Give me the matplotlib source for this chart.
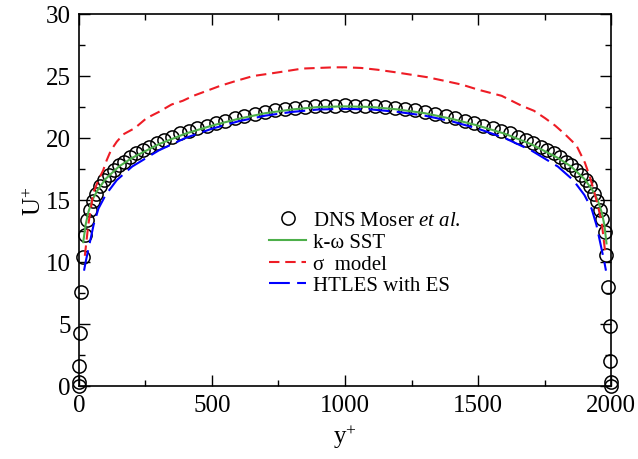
import matplotlib
matplotlib.use("Agg")
import matplotlib.pyplot as plt
from matplotlib.ticker import MultipleLocator

plt.rcParams["font.family"] = ["Liberation Serif", "DejaVu Serif"]
plt.rcParams["mathtext.fontset"] = "custom"
plt.rcParams["mathtext.rm"] = "Liberation Serif"
plt.rcParams["mathtext.it"] = "Liberation Serif:italic"

# DNS (Moser et al.), Re_tau ~ 2000
dns_y = [0, 0.3, 1.6, 4.3, 8.5, 15, 22, 30, 40, 52, 65, 80, 95, 112, 130, 150,
         170, 192, 215, 240, 265, 292, 320, 350, 380, 412, 445, 480, 515, 550,
         586, 622, 660, 698, 736, 774, 812, 850, 888, 926, 963, 1000,
         1037, 1074, 1112, 1150, 1188, 1226, 1264, 1302, 1340, 1378, 1414,
         1450, 1485, 1520, 1555, 1588, 1620, 1650, 1680, 1708, 1735, 1760,
         1785, 1808, 1830, 1850, 1870, 1888, 1905, 1920, 1935, 1947, 1958,
         1967, 1976, 1983, 1990, 1995.2, 1998.0, 1999.7, 2000]
dns_u = [0.0, 0.3, 1.6, 4.3, 7.6, 10.4, 12.2, 13.4, 14.2, 14.9, 15.5, 16.1,
         16.6, 17.0, 17.4, 17.8, 18.1, 18.45, 18.75, 19.05, 19.3, 19.6, 19.85,
         20.1, 20.4, 20.6, 20.8, 21.0, 21.2, 21.4, 21.6, 21.8, 21.95, 22.1,
         22.25, 22.35, 22.45, 22.5, 22.57, 22.6, 22.62, 22.63,
         22.62, 22.6, 22.57, 22.5, 22.45, 22.35, 22.25, 22.1, 21.95, 21.8,
         21.6, 21.4, 21.2, 21.0, 20.8, 20.6, 20.4, 20.1, 19.85, 19.6, 19.3,
         19.05, 18.75, 18.45, 18.1, 17.8, 17.4, 17.0, 16.6, 16.1, 15.5, 14.9,
         14.2, 13.5, 12.4, 10.6, 8.0, 4.8, 2.0, 0.3, 0.0]

# k-omega SST
sst_y = [16, 25, 35, 50, 70, 100, 150, 200, 300, 400, 500, 600, 700, 800, 900,
         1000, 1100, 1200, 1300, 1400, 1500, 1600, 1700, 1800, 1850, 1900,
         1930, 1950, 1965, 1975, 1983]
sst_u = [11.6, 13.0, 14.0, 15.0, 15.8, 16.7, 17.7, 18.4, 19.5, 20.35, 21.0,
         21.55, 22.0, 22.3, 22.5, 22.55, 22.5, 22.3, 22.0, 21.55, 21.0, 20.35,
         19.5, 18.4, 17.7, 16.7, 15.8, 15.0, 14.0, 13.0, 11.5]

# sigma model
sig_y = [22, 35, 54, 75, 91, 104, 120, 142, 167, 210, 254, 300, 348, 390, 430,
         480, 530, 590, 655, 720, 781, 840, 900, 960, 1000, 1060, 1124, 1190,
         1250, 1310, 1376, 1440, 1500, 1589, 1664, 1710, 1752, 1790, 1827,
         1870, 1902, 1920, 1935, 1950, 1965, 1978]
sig_u = [10.5, 13.0, 15.6, 16.7, 17.4, 18.2, 19.0, 19.7, 20.3, 20.8, 21.6,
         22.1, 22.7, 23.0, 23.4, 23.8, 24.2, 24.6, 25.0, 25.2, 25.4, 25.6,
         25.65, 25.7, 25.7, 25.65, 25.5, 25.3, 25.1, 24.9, 24.6, 24.3, 23.9,
         23.4, 22.6, 22.2, 21.6, 21.0, 20.3, 19.4, 18.0, 16.9, 15.8, 14.6,
         13.2, 10.8]

# HTLES with ES
htl_y = [19, 25, 41, 55, 73, 100, 142, 200, 300, 400, 500, 600, 700, 800, 900,
         1000, 1100, 1200, 1300, 1400, 1500, 1600, 1700, 1800, 1858, 1900,
         1927, 1945, 1959, 1975, 1981]
htl_u = [9.3, 10.0, 11.6, 13.0, 14.3, 15.4, 16.6, 17.7, 19.0, 20.0, 20.75,
         21.35, 21.8, 22.1, 22.3, 22.35, 22.3, 22.1, 21.8, 21.35, 20.75, 20.0,
         19.0, 17.7, 16.6, 15.4, 14.3, 13.0, 11.6, 10.0, 9.3]

fig = plt.figure(figsize=(6.38, 4.6), dpi=100)
ax = fig.add_axes([0.1238, 0.1587, 0.8339, 0.8087])

ax.plot(dns_y, dns_u, linestyle="none", marker="o", markersize=9.5,
        markerfacecolor="none", markeredgecolor="black", markeredgewidth=1.1,
        label="DNS Moser $\\mathit{et\\ al.}$", zorder=3, clip_on=False)
ax.plot(sst_y, sst_u, color="#4daf4a", linewidth=1.5, label="k-ω SST", zorder=4)
ax.plot(sig_y, sig_u, color="#ee1c25", linewidth=1.5, dashes=(5, 2.8),
        label="σ  model", zorder=4)
ax.plot(htl_y, htl_u, color="#0000ff", linewidth=1.5, dashes=(10, 3.5),
        label="HTLES with ES", zorder=4)

ax.set_xlim(0, 2000)
ax.set_ylim(0, 30)
ax.xaxis.set_major_locator(MultipleLocator(500))
ax.xaxis.set_minor_locator(MultipleLocator(250))
ax.yaxis.set_major_locator(MultipleLocator(5))
ax.yaxis.set_minor_locator(MultipleLocator(2.5))
ax.tick_params(which="both", direction="in", top=True, right=True,
               labelsize=18, width=1.0)
ax.tick_params(which="major", length=8, pad=6)
ax.tick_params(which="minor", length=4)
for spine in ax.spines.values():
    spine.set_linewidth(1.2)

ax.set_xlabel("y$^{+}$", fontsize=18, labelpad=4)
ax.set_ylabel("U$^{+}$", fontsize=18, labelpad=0)

ax.legend(loc="upper left", bbox_to_anchor=(0.405, 0.562),
          bbox_transform=fig.transFigure, frameon=False, fontsize=15,
          handlelength=1.8, handletextpad=0.3, labelspacing=0.1,
          borderpad=0.0)

fig.savefig("out.png", dpi=100, facecolor="white")
